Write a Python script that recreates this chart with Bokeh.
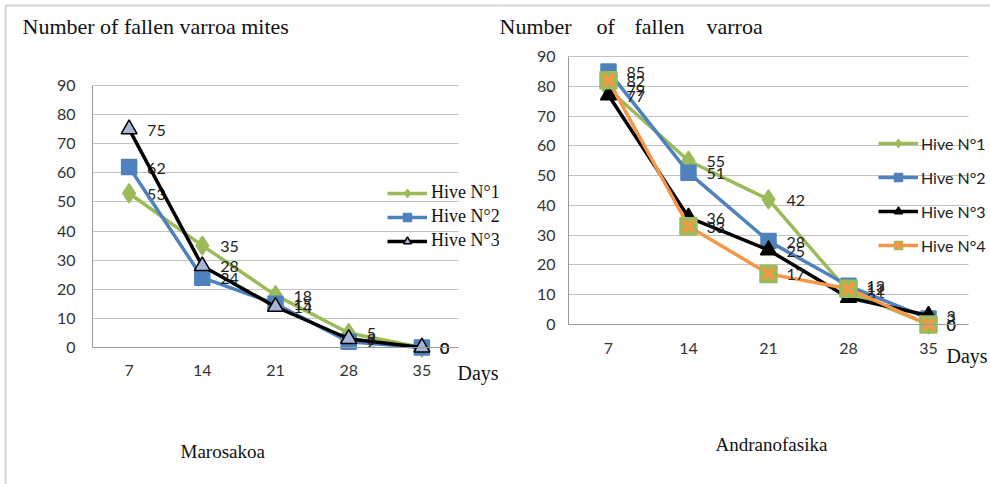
from bokeh.plotting import figure
from bokeh.layouts import row
from bokeh.models import (Range1d, FixedTicker, Legend, LegendItem, Label,
                          BoxAnnotation, Grid)
from bokeh.core.properties import value
from bokeh.embed import file_html
from bokeh.resources import INLINE

# ---------------- data ----------------
days = [7, 14, 21, 28, 35]
y_ticks = [0, 10, 20, 30, 40, 50, 60, 70, 80, 90]

maro_hive1 = [53, 35, 18, 5, 0]
maro_hive2 = [62, 24, 15, 2, 0]
maro_hive3 = [75, 28, 14, 3, 0]

andr_hive1 = [79, 55, 42, 11, 0]
andr_hive2 = [85, 51, 28, 13, 2]
andr_hive3 = [77, 36, 25, 9, 3]
andr_hive4 = [82, 33, 17, 12, 0]

hive_names = ["Hive N°1", "Hive N°2", "Hive N°3", "Hive N°4"]
left_title = "Number of fallen varroa mites"
right_title_words = ["Number", "of", "fallen", "varroa"]
x_name = "Days"
site_names = ["Marosakoa", "Andranofasika"]

GREEN = "#9bbb59"
BLUE = "#4f81bd"
BLACK = "#000000"
ORANGE = "#f79646"
TRI_FILL = "#a7b5d6"
GRID = "#c3c3c3"
AXIS = "#9a9a9a"
SANS = "Lato"
SERIF = "Liberation Serif"

X_LO, X_HI = 3.5, 38.5          # plot area bounds in days (half a step around ticks)
Y_LO, Y_HI = 0, 90
HAS_CROSS = "cross_bounds" in Grid.properties()


def make_fig(width, plot_left, plot_right, y0_px, y90_px, std_y, std_x):
    """Frame = whole canvas; axes drawn at fixed locations inside it."""
    px_x = (plot_right - plot_left) / (X_HI - X_LO)
    px_y = (y0_px - y90_px) / (Y_HI - Y_LO)
    xr = Range1d(X_LO - plot_left / px_x, X_LO + (width - plot_left) / px_x)
    yr = Range1d(-(484 - y0_px) / px_y, y0_px / px_y)
    p = figure(x_range=xr, y_range=yr, width=width, height=484, min_border=0,
               output_backend="svg", toolbar_location=None,
               background_fill_color="white", border_fill_color="white",
               outline_line_color=None)
    p.xaxis.ticker = FixedTicker(ticks=days)
    p.yaxis.ticker = FixedTicker(ticks=y_ticks)
    p.xaxis.fixed_location = Y_LO
    p.yaxis.fixed_location = X_LO
    p.xaxis.bounds = (X_LO, X_HI)
    p.yaxis.bounds = (Y_LO, Y_HI)
    for ax in (p.xaxis, p.yaxis):
        ax.axis_line_color = AXIS
        ax.axis_line_width = 1
        ax.major_tick_line_color = None
        ax.minor_tick_line_color = None
        ax.major_label_text_font = SANS
        ax.major_label_text_font_size = "16px"
        ax.major_label_text_color = "#333333"
    p.yaxis.major_label_standoff = std_y
    p.xaxis.major_label_standoff = std_x
    p.xgrid.grid_line_color = None
    if HAS_CROSS:
        p.ygrid.ticker = FixedTicker(ticks=y_ticks)
        p.ygrid.grid_line_color = GRID
        p.ygrid.cross_bounds = (X_LO, X_HI)
    else:
        p.ygrid.grid_line_color = None
        p.segment(x0=[X_LO] * len(y_ticks), y0=y_ticks, x1=[X_HI] * len(y_ticks),
                  y1=y_ticks, line_color=GRID, line_width=1)
    return p


def add_series(p, vals, color, marker, size, fill, mline, extra=None):
    r_line = p.line(days, vals, line_color=color, line_width=3.5)
    r_mark = p.scatter(days, vals, marker=marker, size=size, fill_color=fill,
                       line_color=mline, line_width=1.5)
    rs = [r_line, r_mark]
    if extra is not None:
        rs.append(p.scatter(days, vals, marker="x", size=extra[0], line_color=extra[1],
                            line_width=4))
    p.text(days, vals, text=[str(v) for v in vals], x_offset=18, y_offset=1,
           text_baseline="middle", text_font=value(SANS), text_font_size="16px",
           text_color="#222222")
    return rs


def canvas_label(p, x, y, text, font, size, color="#111111"):
    p.add_layout(Label(x=x, y=y, x_units="canvas", y_units="canvas", text=text,
                       text_font=font, text_font_size=size, text_color=color,
                       text_baseline="middle", text_align="left"))


def border(p, left):
    p.add_layout(BoxAnnotation(left=left, right=3000, top=5, bottom=3000,
                               left_units="canvas", right_units="canvas",
                               top_units="canvas", bottom_units="canvas",
                               fill_alpha=0, line_color="#7a7a7a", line_width=2))


# ---------------- left chart: Marosakoa ----------------
p1 = make_fig(499, 92, 458, 347, 85, 11, 11)
s1 = add_series(p1, maro_hive1, GREEN, "diamond", 19, GREEN, GREEN)
s2 = add_series(p1, maro_hive2, BLUE, "square", 15, BLUE, BLUE)
s3 = add_series(p1, maro_hive3, BLACK, "triangle", 16, TRI_FILL, BLACK)
leg1 = Legend(items=[LegendItem(label=hive_names[0], renderers=s1),
                     LegendItem(label=hive_names[1], renderers=s2),
                     LegendItem(label=hive_names[2], renderers=s3)],
              location=(387, 233), glyph_width=40, glyph_height=20, label_height=20,
              spacing=3, label_standoff=4, padding=0, margin=0,
              border_line_color=None, background_fill_alpha=0,
              label_text_font=SERIF, label_text_font_size="18px",
              label_text_color="#111111")
p1.add_layout(leg1)
canvas_label(p1, 22, 26, left_title, SERIF, "22px")
canvas_label(p1, 457, 372, x_name, SERIF, "20px")
canvas_label(p1, 180, 451, site_names[0], SERIF, "19px")
border(p1, 5)

# ---------------- right chart: Andranofasika ----------------
p2 = make_fig(491, 69, 469, 324, 56, 7, 12)
t1 = add_series(p2, andr_hive1, GREEN, "diamond", 19, GREEN, GREEN)
t2 = add_series(p2, andr_hive2, BLUE, "square", 15, BLUE, BLUE)
t3 = add_series(p2, andr_hive3, BLACK, "triangle", 16, BLACK, BLACK)
t4 = add_series(p2, andr_hive4, ORANGE, "square", 17, GREEN, GREEN, extra=(15, ORANGE))
leg2 = Legend(items=[LegendItem(label=hive_names[0], renderers=t1),
                     LegendItem(label=hive_names[1], renderers=t2),
                     LegendItem(label=hive_names[2], renderers=t3),
                     LegendItem(label=hive_names[3], renderers=t4)],
              location=(379, 229), glyph_width=40, glyph_height=20, label_height=20,
              spacing=14, label_standoff=3, padding=0, margin=0,
              border_line_color=None, background_fill_alpha=0,
              label_text_font=SANS, label_text_font_size="16px",
              label_text_color="#222222")
p2.add_layout(leg2)
for word, wx in zip(right_title_words, [0, 97, 135, 207]):
    canvas_label(p2, wx, 26, word, SERIF, "22px")
canvas_label(p2, 447, 355, x_name, SERIF, "20px")
canvas_label(p2, 216, 444, site_names[1], SERIF, "19px")
border(p2, -10)

layout = row(p1, p2)
open("out.html", "w").write(file_html(layout, INLINE))
